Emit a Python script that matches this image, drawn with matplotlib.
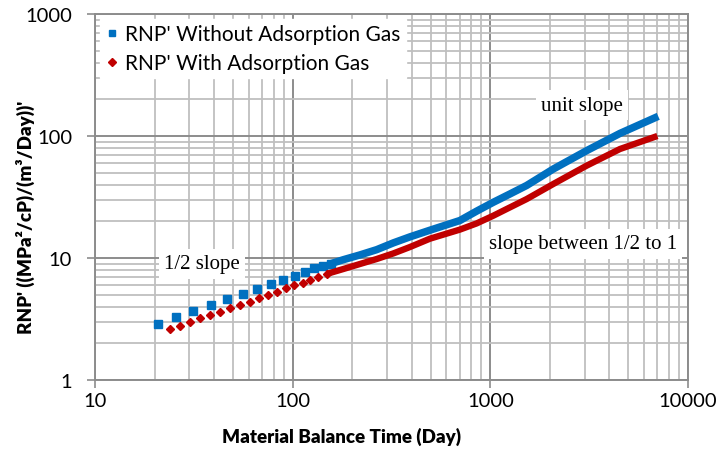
import matplotlib
matplotlib.use("Agg")
import matplotlib.pyplot as plt
from matplotlib.ticker import LogLocator, NullFormatter, FixedLocator, FixedFormatter

# ---- data ----
# Without adsorption gas (blue squares): early, separated points
blue_t_early = [20.9, 25.7, 31.4, 38.4, 46.3, 55.8, 65.7, 77.4, 89.0, 102.4, 115.8, 128.2, 141.8, 155.7]
blue_rnp_early = [2.89, 3.27, 3.68, 4.12, 4.59, 5.10, 5.60, 6.12, 6.64, 7.16, 7.63, 8.23, 8.65, 8.98]
# later, densely packed points (appear as a thick line)
blue_t_late = [155.7, 180.3, 219, 266, 323, 392, 495, 702, 852, 1034, 1257, 1526, 2081, 3069, 4525, 7070]
blue_rnp_late = [8.98, 9.68, 10.6, 11.7, 13.3, 14.9, 16.9, 20.3, 24.2, 28.6, 33.5, 39.3, 53.6, 75.8, 105, 145]

# With adsorption gas (red diamonds)
red_t_early = [23.95, 26.9, 30.2, 33.96, 38.2, 42.9, 48.2, 54.1, 60.8, 67.8, 75.3, 83.0, 92.5, 101.5, 112.3, 122.3, 134.0, 148.6]
red_rnp_early = [2.62, 2.79, 3.00, 3.21, 3.43, 3.63, 3.87, 4.12, 4.38, 4.68, 4.98, 5.30, 5.65, 6.01, 6.24, 6.61, 7.00, 7.40]
red_t_late = [148.6, 180.3, 219, 266, 323, 392, 495, 702, 852, 1034, 1257, 1526, 2081, 3069, 4525, 7000]
red_rnp_late = [7.40, 8.12, 8.93, 9.81, 10.9, 12.3, 14.4, 17.1, 19.2, 22.2, 26.0, 30.4, 40.4, 57.1, 78.2, 100]

x_ticks = [10, 100, 1000, 10000]
x_tick_labels = ["10", "100", "1000", "10000"]
y_ticks = [1, 10, 100, 1000]
y_tick_labels = ["1", "10", "100", "1000"]

label_blue = "RNP' Without Adsorption Gas"
label_red = "RNP' With Adsorption Gas"

BLUE = "#0070C0"
RED = "#C00000"
SANS = ["Lato", "DejaVu Sans"]
SERIF = ["Liberation Serif", "DejaVu Serif"]

fig = plt.figure(figsize=(7.22, 4.52), dpi=100)
ax = fig.add_axes([95 / 722, 1 - 381 / 452, (688 - 95) / 722, (381 - 15) / 452])
ax.set_xscale("log")
ax.set_yscale("log")
ax.set_xlim(10, 10000)
ax.set_ylim(1, 1000)

# grid
ax.xaxis.set_minor_locator(LogLocator(base=10, subs=range(2, 10)))
ax.yaxis.set_minor_locator(LogLocator(base=10, subs=range(2, 10)))
ax.xaxis.set_minor_formatter(NullFormatter())
ax.yaxis.set_minor_formatter(NullFormatter())
ax.grid(which="minor", color="#BFBFBF", lw=1.3, zorder=0)
ax.grid(which="major", color="#8C8C8C", lw=1.4, zorder=0)
ax.set_axisbelow(True)

# series
ax.plot(blue_t_late, blue_rnp_late, color=BLUE, lw=5.4, solid_capstyle="butt", zorder=3)
ax.plot(blue_t_early, blue_rnp_early, ls="none", marker="s", ms=5.2, color=BLUE, zorder=3)
ax.plot(red_t_late, red_rnp_late, color=RED, lw=4.6, solid_capstyle="butt", zorder=4)
ax.plot(red_t_early, red_rnp_early, ls="none", marker="D", ms=4.3, color=RED, zorder=4)

# legend proxies
h1, = ax.plot([], [], ls="none", marker="s", ms=5, color=BLUE)
h2, = ax.plot([], [], ls="none", marker="D", ms=4, color=RED)
leg = ax.legend([h1, h2], [label_blue, label_red], loc="upper left",
                bbox_to_anchor=(-0.002, 1.003), frameon=True, fancybox=False,
                edgecolor="white", framealpha=1.0, handlelength=0.6,
                handletextpad=0.35, borderpad=0.25, labelspacing=0.42,
                borderaxespad=0.3, prop={"family": SANS, "size": 15})
leg.set_zorder(6)

# ticks
ax.xaxis.set_major_locator(FixedLocator(x_ticks))
ax.xaxis.set_major_formatter(FixedFormatter(x_tick_labels))
ax.yaxis.set_major_locator(FixedLocator(y_ticks))
ax.yaxis.set_major_formatter(FixedFormatter(y_tick_labels))
ax.tick_params(which="major", direction="out", length=5.5, width=1.2, color="#8C8C8C",
               labelsize=14.5)
ax.tick_params(axis="x", which="major", pad=3)
ax.tick_params(axis="y", which="major", pad=11)
ax.tick_params(which="minor", length=0)
for lab in ax.get_xticklabels() + ax.get_yticklabels():
    lab.set_family(SANS)
for s in ax.spines.values():
    s.set_color("#8C8C8C")
    s.set_linewidth(1.4)

ax.set_xlabel("Material Balance Time (Day)", family=SANS, fontsize=13.5, fontweight="heavy", va="center")
ax.xaxis.set_label_coords((341 - 95) / 593, (381 - 437) / 366)
ax.set_ylabel("RNP' ((MPa²/cP)/(m³/Day))'", family=SANS, fontsize=13.5, fontweight="heavy", va="center")
ax.yaxis.set_label_coords((25 - 95) / 593, (381 - 217) / 366)

# annotations
bb = dict(boxstyle="square,pad=0.25", fc="white", ec="none")
fig.text(582 / 722, 1 - 106 / 452, "unit slope", family=SERIF, fontsize=15,
         ha="center", va="center", bbox=bb, zorder=7)
fig.text(583 / 722, 1 - 245 / 452, "slope between 1/2 to 1", family=SERIF, fontsize=15,
         ha="center", va="center", bbox=bb, zorder=7)
fig.text(202 / 722, 1 - 265 / 452, "1/2 slope", family=SERIF, fontsize=15,
         ha="center", va="center", bbox=bb, zorder=7)

fig.savefig("out.png", dpi=100)
